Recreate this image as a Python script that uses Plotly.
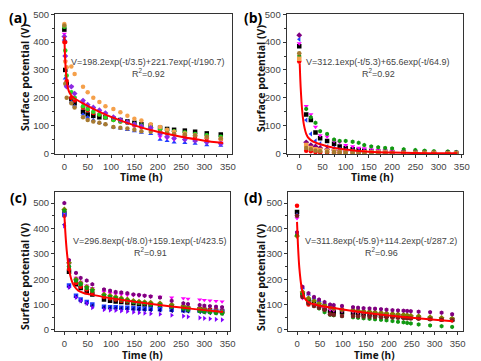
import plotly.graph_objects as go

# ---------------- data ----------------
# Panel (a)
a_time = [0, 2, 5, 15, 22, 40, 50, 62, 75, 88, 105, 120, 135, 150, 165, 185, 205, 220, 235, 258, 280, 305, 335]
a_s1 = [445, 300, 250, 195, 180, 150, 140, 135, 130, 130, 125, 120, 115, 110, 105, 100, 92, 88, 85, 82, 78, 72, 68]
a_s2 = [400, 400, 260, 200, 190, 165, 155, 145, 140, 130, 120, 115, 110, 100, 95, 90, 80, 75, 70, 65, 60, 55, 50]
a_s3 = [410, 270, 245, 185, 170, 140, 130, 120, 110, 105, 95, 90, 85, 80, 75, 70, 50, 45, 40, 38, 35, 30, 28]
a_s4 = [430, 330, 240, 240, 200, 180, 165, 160, 150, 140, 130, 120, 110, 100, 95, 88, 60, 55, 50, 48, 45, 42, 38]
a_s5 = [455, 370, 280, 220, 200, 170, 160, 150, 140, 130, 120, 115, 110, 105, 100, 95, 88, 84, 80, 75, 70, 65, 60]
a_s6 = [465, 330, 310, 312, 285, 240, 220, 200, 185, 170, 160, 148, 135, 125, 118, 105, 95, 85, 78, 72, 65, 58, 52]
a_s7 = [460, 250, 200, 180, 165, 130, 120, 115, 110, 105, 95, 92, 90, 85, 80, 78, 75, 72, 70, 68, 65, 60, 55]
a_s8 = [420, 350, 240, 240, 215, 190, 175, 165, 155, 145, 130, 120, 112, 105, 98, 92, 70, 60, 55, 50, 45, 40, 35]
a_fit_t = [0, 1, 2, 3, 5, 7, 10, 15, 20, 30, 40, 60, 80, 100, 150, 200, 250, 300, 340]
a_fit_v = [420, 369.5, 331, 302.3, 263.5, 240.5, 221.8, 207.6, 200.3, 189.4, 179.7, 161.8, 145.7, 131.2, 101, 77.7, 59.8, 46.0, 37.3]

# Panel (b)
b_time = [0, 15, 25, 35, 45, 60, 75, 87, 100, 115, 128, 140, 155, 170, 185, 200, 225, 250, 270, 290, 320, 338]
b_s1 = [385, 140, 120, 75, 55, 45, 35, 25, 20, 15, 12, 10, 8, 7, 6, 5, 4, 3, 3, 2, 2, 2]
b_s2 = [330, 10, 8, 5, 4, 3, 3, 2, 2, 2, 2, 1, 1, 1, 1, 1, 1, 1, 1, 1, 1, 1]
b_s3 = [410, 120, 70, 45, 35, 25, 20, 15, 12, 10, 8, 7, 6, 5, 4, 3, 3, 2, 2, 2, 2, 1]
b_s4 = [395, 170, 140, 95, 65, 60, 45, 40, 30, 25, 20, 18, 15, 12, 10, 8, 7, 6, 5, 4, 3, 3]
b_s5 = [350, 160, 130, 110, 80, 70, 50, 45, 45, 42, 38, 30, 25, 22, 20, 18, 15, 12, 10, 8, 7, 5]
b_s6 = [425, 40, 30, 25, 20, 15, 12, 10, 8, 7, 6, 5, 5, 4, 4, 3, 3, 3, 2, 2, 2, 2]
b_s7 = [340, 30, 20, 15, 12, 10, 8, 6, 5, 5, 4, 4, 3, 3, 3, 2, 2, 2, 2, 2, 1, 1]
b_s8 = [360, 20, 15, 10, 8, 6, 5, 4, 3, 3, 3, 2, 2, 2, 2, 2, 1, 1, 1, 1, 1, 1]
b_fit_t = [1, 2, 3, 5, 7, 10, 15, 20, 30, 40, 60, 80, 100, 150, 200, 250, 300, 340]
b_fit_v = [323, 277.6, 239.8, 182.2, 142.2, 103.5, 70.5, 55.4, 42.4, 35.6, 26.0, 19.1, 14.1, 6.5, 3.0, 1.4, 0.6, 0.35]

# Panel (c)
c_time = [0, 10, 25, 35, 48, 60, 85, 98, 110, 122, 135, 148, 160, 172, 185, 205, 230, 255, 265, 290, 300, 312, 325, 338]
c_s1 = [460, 230, 180, 165, 150, 140, 120, 115, 112, 110, 108, 105, 102, 100, 98, 95, 92, 88, 85, 82, 80, 78, 76, 75]
c_s2 = [450, 240, 185, 170, 160, 150, 130, 125, 120, 115, 112, 110, 108, 105, 102, 100, 95, 90, 88, 85, 82, 80, 78, 76]
c_s3 = [455, 175, 135, 120, 110, 100, 92, 90, 90, 88, 88, 86, 85, 84, 84, 82, 80, 78, 78, 76, 75, 74, 73, 72]
c_s4 = [465, 260, 205, 190, 175, 165, 150, 145, 142, 140, 138, 137, 135, 134, 132, 130, 128, 125, 123, 120, 118, 116, 114, 112]
c_s5 = [475, 265, 200, 185, 170, 160, 140, 135, 130, 125, 120, 115, 112, 110, 108, 105, 100, 95, 90, 85, 80, 75, 72, 70]
c_s6 = [415, 170, 130, 115, 105, 95, 88, 86, 85, 84, 83, 82, 81, 80, 79, 78, 76, 75, 74, 72, 70, 68, 67, 66]
c_s7 = [410, 168, 128, 115, 105, 88, 80, 78, 77, 75, 73, 70, 68, 66, 64, 62, 58, 55, 52, 48, 46, 44, 42, 40]
c_s8 = [500, 275, 225, 205, 195, 180, 160, 155, 150, 148, 145, 140, 138, 135, 132, 128, 115, 105, 102, 98, 96, 94, 92, 90]
c_s9 = [470, 250, 195, 180, 165, 155, 135, 130, 125, 120, 115, 110, 107, 105, 100, 98, 92, 85, 80, 75, 72, 70, 67, 65]
c_fit_t = [0, 2, 5, 10, 15, 20, 30, 40, 60, 100, 150, 200, 250, 300, 340]
c_fit_v = [455.9, 389.5, 316.1, 240.4, 199.1, 176.2, 155.2, 146.8, 138.3, 125.6, 111.7, 99.2, 88.2, 78.3, 71.3]

# Panel (d)
d_time = [0, 12, 25, 37, 48, 60, 72, 80, 98, 122, 133, 145, 158, 170, 183, 195, 208, 220, 232, 240, 248, 265, 290, 315, 338]
d_s1 = [465, 140, 115, 105, 95, 85, 75, 70, 70, 68, 66, 64, 62, 60, 58, 56, 55, 53, 52, 50, 50, 48, 45, 42, 40]
d_s2 = [490, 135, 100, 98, 95, 92, 88, 85, 82, 78, 75, 72, 70, 68, 65, 62, 60, 58, 55, 53, 52, 48, 45, 42, 38]
d_s3 = [455, 165, 140, 125, 115, 105, 95, 90, 85, 80, 78, 75, 72, 70, 68, 65, 62, 60, 58, 56, 55, 52, 48, 45, 42]
d_s4 = [440, 125, 110, 100, 92, 85, 80, 78, 75, 72, 70, 68, 66, 64, 62, 60, 58, 56, 55, 53, 52, 50, 47, 44, 42]
d_s5 = [370, 150, 125, 115, 105, 98, 90, 85, 80, 78, 76, 74, 72, 70, 68, 66, 64, 62, 60, 58, 56, 54, 50, 48, 45]
d_s6 = [375, 140, 110, 95, 85, 70, 60, 58, 55, 50, 48, 46, 44, 42, 40, 38, 35, 32, 30, 28, 26, 22, 18, 15, 12]
d_s7 = [385, 170, 145, 130, 120, 110, 100, 98, 95, 90, 88, 86, 85, 84, 82, 80, 78, 77, 76, 75, 74, 72, 70, 68, 62]
d_s8 = [450, 130, 105, 95, 88, 80, 62, 60, 55, 55, 54, 53, 52, 51, 50, 50, 49, 48, 47, 46, 45, 44, 42, 40, 38]
d_fit_t = [0, 2, 5, 10, 15, 20, 30, 40, 60, 100, 150, 200, 250, 300, 340]
d_fit_v = [426, 335.6, 245.8, 167.6, 132.9, 117.0, 104.8, 99.7, 92.7, 80.6, 67.7, 56.9, 47.8, 40.2, 34.9]

eq_texts = ["V=198.2exp(-t/3.5)+221.7exp(-t/190.7)",
            "V=312.1exp(-t/5.3)+65.6exp(-t/64.9)",
            "V=296.8exp(-t/8.0)+159.1exp(-t/423.5)",
            "V=311.8exp(-t/5.9)+114.2exp(-t/287.2)"]
r2_texts = ["0.92", "0.92", "0.91", "0.96"]
panel_labels = ["(a)", "(b)", "(c)", "(d)"]

# ---------------- figure ----------------
OFF = 8  # page body margin of the browser
W, H = 481 - OFF, 361 - OFF
fig = go.Figure()


def px_x(p):
    return (p - OFF) / W


def px_y(p):
    return 1 - (p - OFF) / H


panels = [
    dict(time=a_time, series=[a_s1, a_s2, a_s3, a_s4, a_s5, a_s6, a_s7, a_s8],
         styles=[("#000000", "square"), ("#ff0000", "circle"), ("#1f3fff", "triangle-up"),
                 ("#ff00ff", "triangle-down"), ("#22dd22", "circle"), ("#f5a04a", "circle"),
                 ("#a77a30", "circle"), ("#8a2be2", "diamond")],
         fit=(a_fit_t, a_fit_v)),
    dict(time=b_time, series=[b_s1, b_s2, b_s3, b_s4, b_s5, b_s6, b_s7, b_s8],
         styles=[("#000000", "square"), ("#ff0000", "circle"), ("#1f3fff", "triangle-left"),
                 ("#ff00ff", "triangle-down"), ("#119911", "hexagon"), ("#800080", "diamond"),
                 ("#f5a04a", "square"), ("#a77a30", "circle")],
         fit=(b_fit_t, b_fit_v)),
    dict(time=c_time, series=[c_s1, c_s2, c_s3, c_s4, c_s5, c_s6, c_s7, c_s8, c_s9],
         styles=[("#000000", "square"), ("#ff0000", "circle"), ("#1f3fff", "square"),
                 ("#ff00ff", "triangle-down"), ("#808000", "diamond"), ("#000080", "triangle-left"),
                 ("#8000ff", "triangle-right"), ("#800080", "hexagon"), ("#119911", "circle")],
         fit=(c_fit_t, c_fit_v)),
    dict(time=d_time, series=[d_s1, d_s2, d_s3, d_s4, d_s5, d_s6, d_s7, d_s8],
         styles=[("#000000", "square"), ("#ff0000", "circle"), ("#1f3fff", "triangle-up"),
                 ("#ff00ff", "triangle-down"), ("#808000", "diamond"), ("#119911", "hexagon"),
                 ("#800080", "hexagon"), ("#7a1f1f", "circle")],
         fit=(d_fit_t, d_fit_v)),
]

# layout geometry (pixels in the reference image)
boxes = [  # left, right, top, bottom
    (55, 232, 14, 154),
    (286.7, 462.7, 14, 154),
    (55, 230, 191.7, 331),
    (288.3, 462.7, 191.7, 331),
]
xranges = [[-20, 359], [-27, 352], [-20, 355], [-19, 361]]
yranges = [[-2, 501], [-2, 501], [-4, 545], [-4, 545]]
eq_pos = [(148, 62, 73), (378, 62, 73), (150, 241, 252), (381, 241, 252)]
label_pos = [(18, 17), (253, 17), (18, 198), (253, 198)]
ytitle_pos = [(25, 78), (261, 78), (25, 277), (261, 277)]
xtitle_pos = [(141, 177), (372, 177), (142, 354.5), (374, 354.5)]

tick_font = dict(family="Liberation Sans, Arial", size=9.5, color="#444444")
title_font = dict(family="Open Sans, Liberation Sans", size=10.5, color="#111111")
bottom_title_font = dict(family="Open Sans, Liberation Sans", size=10, color="#111111")

for i, p in enumerate(panels):
    xa = "x" if i == 0 else f"x{i+1}"
    ya = "y" if i == 0 else f"y{i+1}"
    for vals, (col, sym) in zip(p["series"], p["styles"]):
        fig.add_trace(go.Scatter(x=p["time"], y=vals, mode="markers", xaxis=xa, yaxis=ya,
                                 marker=dict(color=col, symbol=sym, size=4.5, line=dict(width=0)),
                                 showlegend=False))
    ft, fv = p["fit"]
    fig.add_trace(go.Scatter(x=ft, y=fv, mode="lines", xaxis=xa, yaxis=ya,
                             line=dict(color="#ff0000", width=2, shape="spline", smoothing=0.6),
                             showlegend=False))

    l, r, t, b = boxes[i]
    axkey_x = "xaxis" if i == 0 else f"xaxis{i+1}"
    axkey_y = "yaxis" if i == 0 else f"yaxis{i+1}"
    fig.layout[axkey_x] = dict(domain=[px_x(l), px_x(r)], anchor=ya, range=xranges[i],
                               tickmode="array", tickvals=[0, 50, 100, 150, 200, 250, 300, 350],
                               ticks="outside", ticklen=3, tickwidth=1, tickcolor="#333",
                               minor=dict(ticks="outside", ticklen=2, tickcolor="#333", dtick=25, tick0=0),
                               showline=True, linecolor="#333333", linewidth=1.2, mirror=True,
                               showgrid=False, zeroline=False, tickfont=tick_font, automargin=False)
    fig.layout[axkey_y] = dict(domain=[px_y(b), px_y(t)], anchor=xa, range=yranges[i],
                               tickmode="array", tickvals=[0, 100, 200, 300, 400, 500],
                               ticks="outside", ticklen=3, tickwidth=1, tickcolor="#333",
                               minor=dict(ticks="outside", ticklen=2, tickcolor="#333", dtick=50, tick0=0),
                               showline=True, linecolor="#333333", linewidth=1.2, mirror=True,
                               showgrid=False, zeroline=False, tickfont=tick_font, automargin=False)

annotations = []
for i in range(4):
    ex, ey, ry = eq_pos[i]
    annotations.append(dict(text=eq_texts[i], x=px_x(ex), y=px_y(ey), xref="paper", yref="paper",
                            showarrow=False, xanchor="center", yanchor="middle",
                            font=dict(family="Liberation Sans, Arial", size=9, color="#444444")))
    annotations.append(dict(text="R<sup>2</sup>=" + r2_texts[i], x=px_x(ex), y=px_y(ry),
                            xref="paper", yref="paper", showarrow=False, xanchor="center",
                            yanchor="middle",
                            font=dict(family="Liberation Sans, Arial", size=9, color="#444444")))
    lx, ly = label_pos[i]
    annotations.append(dict(text="<b>" + panel_labels[i] + "</b>", x=px_x(lx), y=px_y(ly),
                            xref="paper", yref="paper", showarrow=False, xanchor="center",
                            yanchor="middle",
                            font=dict(family="Open Sans, Liberation Sans", size=14, color="#000000")))
    tx, tyy = ytitle_pos[i]
    annotations.append(dict(text="<b>Surface potential (V)</b>", x=px_x(tx), y=px_y(tyy),
                            xref="paper", yref="paper", showarrow=False, textangle=-90,
                            xanchor="center", yanchor="middle", font=title_font))
    xx, xy = xtitle_pos[i]
    annotations.append(dict(text="<b>Time (h)</b>", x=px_x(xx), y=px_y(xy),
                            xref="paper", yref="paper", showarrow=False,
                            xanchor="center", yanchor="middle",
                            font=title_font if i < 2 else bottom_title_font))

fig.update_layout(width=W, height=H, margin=dict(l=0, r=0, t=0, b=0),
                  paper_bgcolor="white", plot_bgcolor="white",
                  annotations=annotations, showlegend=False)

fig.write_html("out.html")
